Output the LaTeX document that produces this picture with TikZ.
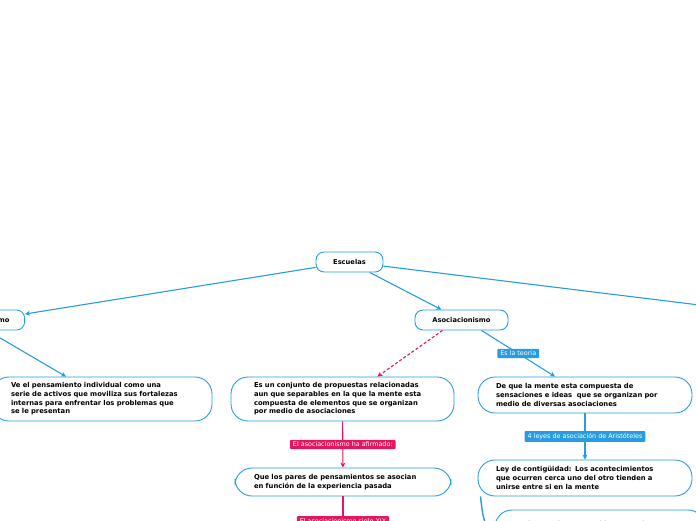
\documentclass[tikz,border=0pt]{standalone}
\usepackage{fontspec}
\setmainfont{DejaVu Sans}
\usetikzlibrary{arrows.meta, positioning}
\definecolor{mmblue}{RGB}{38,157,224}
\definecolor{mmpink}{RGB}{228,22,95}
\tikzset{
  topic/.style={rectangle, draw=mmblue, line width=0.9pt, rounded corners=8pt,
                fill=white, minimum height=20pt, inner xsep=15pt,
                font=\bfseries\fontsize{6.7}{8}\selectfont},
  idea/.style={rectangle, draw=mmblue, line width=0.9pt, rounded corners=17pt,
               fill=white, align=left, text width=176pt,
               font=\bfseries\fontsize{6.8}{8.6}\selectfont},
  tag/.style={rectangle, fill=mmblue, text=white, rounded corners=1pt,
              inner xsep=3pt, inner ysep=2.2pt, font=\fontsize{6.4}{7}\selectfont},
  ptag/.style={tag, fill=mmpink},
  arr/.style={-{Stealth[length=5pt, width=5pt]}, draw=mmblue, line width=1.1pt},
  parr/.style={arr, draw=mmpink},
}

\begin{document}
\begin{tikzpicture}[x=1pt, y=-1pt]
  \useasboundingbox (0,0) rectangle (696,520);
  \clip (0,0) rectangle (696,520);

  % schools
  \node[topic, minimum width=67pt] (esc) at (349.5,262) {Escuelas};
  \node[topic, anchor=east] (hum) at (25,320) {Humanismo};
  \node[topic, minimum width=93pt] (aso) at (461.5,320) {Asociacionismo};
  \coordinate (otra) at (870,326);

  % ideas
  \node[idea, inner xsep=19pt, text width=182pt, minimum height=44pt] (vep) at (102,399)
    {Ve el pensamiento individual como una\\serie de activos que moviliza sus fortalezas\\internas para enfrentar los problemas que\\se le presentan};
  \node[idea, inner xsep=23pt, text width=177pt, minimum height=44pt] (conj) at (342.5,399)
    {Es un conjunto de propuestas relacionadas\\aun que separables en la que la mente esta\\compuesta de elementos que se organizan\\por medio de asociaciones};
  \node[idea, inner xsep=18pt, text width=178pt, minimum height=36pt] (mente) at (585,395)
    {De que la mente esta compuesta de\\sensaciones e ideas\ \ que se organizan por\\medio de diversas asociaciones};
  \node[idea, inner xsep=18pt, text width=178pt, minimum height=36pt] (contig) at (585,478)
    {Ley de contigüidad: Los acontecimientos\\que ocurren cerca uno del otro tienden a\\unirse entre si en la mente};
  \node[idea, inner xsep=19pt, text width=178pt, minimum height=28pt] (pares) at (343,482)
    {Que los pares de pensamientos se asocian\\en función de la experiencia pasada};
  \node[idea, inner xsep=15pt, text width=180pt, minimum height=36pt] (semej) at (600,528)
    {Ley de semejanza: Las ideas semejantes\\tienden a asociarse en la mente};
  \coordinate (xix) at (343,580);

  % connectors
  \draw[arr] (esc) -- (hum);
  \draw[arr] (esc) -- (aso);
  \draw[arr] (esc) -- (otra);
  \draw[arr] (hum.south) -- ([xshift=-36pt]vep.north);
  \draw[parr, dash pattern=on 3pt off 2pt] ([xshift=-19pt]aso.south) -- ([xshift=35pt]conj.north);
  \draw[arr] ([xshift=20pt]aso.south) -- node[tag] {Es la teoria} ([xshift=-30pt]mente.north);
  \draw[arr] (mente) -- node[tag] {4 leyes de asociación de Aristóteles} (contig);
  \draw[parr] (conj) -- node[ptag] {El asociacionismo ha afirmado:} (pares);
  \draw[parr] (pares) -- node[ptag, pos=0.3] {El asociacionismo siglo XIX} (xix);
  \draw[arr, line width=1.4pt] ([xshift=3pt]contig.south west)
    .. controls +(2pt,-20pt) and +(-10pt,0pt) .. (semej.west);

\end{tikzpicture}
\end{document}
